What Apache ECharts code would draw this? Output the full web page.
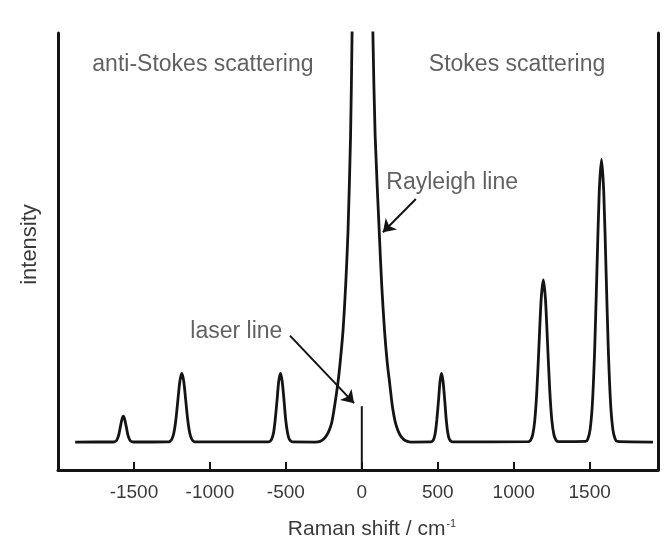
<!DOCTYPE html>
<html>
<head>
<meta charset="utf-8">
<script src="https://cdn.jsdelivr.net/npm/echarts@6/dist/echarts.min.js"></script>
<style>
  html, body { margin: 0; padding: 0; background: #fff; }
  #chart { width: 670px; height: 545px; }
</style>
</head>
<body>
<div id="chart"></div>
<script>
// Raman spectrum: [shift (cm-1), intensity] sample points.
const baselineEnds = [[-1887, 6.4], [1917, 6.4]];

const antiStokesPeaks = [
  // ~ -1570
  [-1636, 6.41], [-1627, 6.47], [-1617, 6.66], [-1608, 7.2], [-1598, 8.32], [-1589, 9.98], [-1579, 11.61],
  [-1570, 12.3],
  [-1561, 11.61], [-1551, 9.98], [-1542, 8.32], [-1532, 7.2], [-1523, 6.66], [-1513, 6.47], [-1504, 6.41],
  // ~ -1185
  [-1276, 6.43], [-1263, 6.57], [-1250, 7.09], [-1237, 8.52], [-1224, 11.5], [-1211, 15.92], [-1198, 20.26],
  [-1185, 22.1],
  [-1172, 20.26], [-1159, 15.92], [-1146, 11.5], [-1133, 8.52], [-1120, 7.09], [-1107, 6.57], [-1094, 6.43],
  // ~ -535
  [-616, 6.43], [-604, 6.57], [-593, 7.09], [-581, 8.52], [-570, 11.5], [-558, 15.92], [-547, 20.26],
  [-535, 22.1],
  [-524, 20.26], [-512, 15.92], [-501, 11.5], [-489, 8.52], [-478, 7.09], [-466, 6.57], [-455, 6.43]
];

// Elastic (Rayleigh) peak; its top runs past the plot and is clipped.
const rayleighLine = [
  [-305, 6.4], [-275, 6.55], [-250, 7.1], [-230, 8.0], [-213, 9.2], [-197, 11.0], [-180, 14.4],
  [-157, 20.0], [-143, 24.4], [-124, 31.7], [-106, 42.4], [-91, 54.4], [-74, 76.4],
  [-64, 100], [-40, 170], [0, 260], [45, 170], [73, 100],
  [88, 76.4], [115, 54.4], [131, 42.4], [150, 31.7], [168, 24.4], [183, 20.0],
  [202, 14.4], [220, 11.0], [236, 9.2], [252, 8.0], [275, 7.0], [300, 6.55], [325, 6.4]
];

const stokesPeaks = [
  // ~ 525
  [453, 6.43], [464, 6.57], [474, 7.09], [484, 8.52], [494, 11.5], [505, 15.92], [515, 20.26],
  [525, 22.1],
  [535, 20.26], [546, 15.92], [556, 11.5], [566, 8.52], [576, 7.09], [587, 6.57], [597, 6.43],
  // ~ 1195
  [1097, 6.48], [1111, 6.81], [1125, 8.03], [1139, 11.42], [1153, 18.45], [1167, 28.9], [1181, 39.14],
  [1195, 43.5],
  [1209, 39.14], [1223, 28.9], [1237, 18.45], [1251, 11.42], [1265, 8.03], [1279, 6.81], [1293, 6.48],
  // ~ 1578
  [1473, 6.54], [1488, 7.12], [1503, 9.24], [1518, 15.15], [1533, 27.41], [1548, 45.64], [1563, 63.5],
  [1578, 71.1],
  [1593, 63.5], [1608, 45.64], [1623, 27.41], [1638, 15.15], [1653, 9.24], [1668, 7.12], [1683, 6.54]
];

// Excitation laser marker at zero shift.
const laserLine = [[0, 0], [0, 14.6]];

const tickValues = [-1500, -1000, -500, 0, 500, 1000, 1500];

const spectrum = baselineEnds
  .concat(antiStokesPeaks, rayleighLine, stokesPeaks)
  .sort((a, b) => a[0] - b[0]);

const ink = '#141414';
const textColor = '#3a3a3a';
const font = '"Liberation Sans", Arial, Helvetica, sans-serif';

const chart = echarts.init(document.getElementById('chart'), null, { renderer: 'canvas' });

const frameAxis = (extra) => Object.assign({
  type: 'value', min: 0, max: 100,
  axisLine: { show: true, onZero: false, lineStyle: { color: ink, width: 3 } },
  axisTick: { show: false }, axisLabel: { show: false }, splitLine: { show: false }
}, extra);

const option = {
  animation: false,
  backgroundColor: '#fff',
  grid: { left: 58, right: 12, top: 33, bottom: 73 },
  xAxis: {
    type: 'value',
    min: -2000,
    max: 1950,
    interval: 500,
    name: 'Raman shift / cm{sup|-1}',
    nameLocation: 'middle',
    nameGap: 48,
    nameTextStyle: {
      color: textColor, fontSize: 21, fontFamily: font,
      padding: [0, 0, 0, 28],
      rich: { sup: { fontSize: 11, color: textColor, fontFamily: font, verticalAlign: 'top', padding: [0, 0, 12, 1] } }
    },
    axisLine: { show: true, onZero: false, lineStyle: { color: ink, width: 3 } },
    axisTick: { show: true, inside: true, length: 8, customValues: tickValues, lineStyle: { color: ink, width: 2 } },
    axisLabel: {
      show: true, customValues: tickValues, margin: 13,
      formatter: v => String(v),
      color: textColor, fontSize: 19, fontFamily: font
    },
    splitLine: { show: false }
  },
  yAxis: [
    frameAxis({
      name: 'intensity', nameLocation: 'middle', nameGap: 17,
      nameTextStyle: { color: textColor, fontSize: 22, fontFamily: font, padding: [0, 0, 0, 14] }
    }),
    frameAxis({ position: 'right' })
  ],
  series: [
    {
      name: 'spectrum',
      type: 'line',
      data: spectrum,
      smooth: 0.25,
      showSymbol: false,
      symbol: 'none',
      clip: true,
      lineStyle: { color: ink, width: 2.8 },
      silent: true
    },
    {
      name: 'laser',
      type: 'line',
      data: laserLine,
      showSymbol: false,
      symbol: 'none',
      lineStyle: { color: ink, width: 2 },
      silent: true
    },
    {
      name: 'notes',
      type: 'scatter',
      symbolSize: 0,
      silent: true,
      label: {
        show: true,
        position: 'inside',
        formatter: p => p.data.text,
        color: textColor,
        fontSize: 23,
        fontFamily: font
      },
      data: [
        { value: [-1046, 92.7], text: 'anti-Stokes scattering' },
        { value: [1022, 92.7], text: 'Stokes scattering' },
        { value: [-826, 31.7], text: 'laser line' },
        { value: [595, 65.8], text: 'Rayleigh line' }
      ],
      markLine: {
        silent: true,
        symbol: ['none', 'arrow'],
        symbolSize: 12,
        label: { show: false },
        lineStyle: { color: ink, width: 2, type: 'solid' },
        data: [
          [{ coord: [-473, 30.75] }, { coord: [-51, 15.3] }],
          [{ coord: [356, 62] }, { coord: [139, 54.4] }]
        ]
      }
    }
  ]
};

chart.setOption(option);
</script>
</body>
</html>
